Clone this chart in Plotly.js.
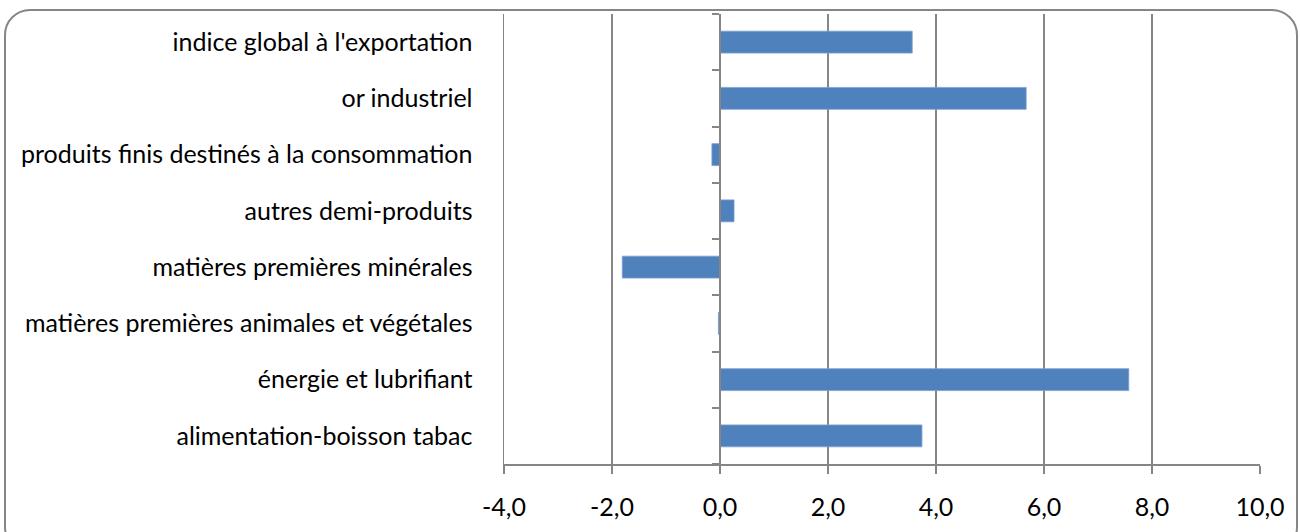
<!DOCTYPE html>
<html>
<head>
<meta charset="utf-8">
<script src="https://cdn.plot.ly/plotly-3.0.1.min.js"></script>
<style>
  html, body { margin: 0; padding: 0; background: #fff; }
  #wrap { position: relative; width: 1300px; height: 532px; overflow: hidden; }
  #chart { position: absolute; left: 0; top: 0; width: 1300px; height: 532px; }
  #frame { position: absolute; left: 4px; top: 9px; width: 1290px; height: 540px;
           border: 2.5px solid #868686; border-radius: 26px; pointer-events: none; }
</style>
</head>
<body>
<div id="wrap"><div id="chart"></div><div id="frame"></div></div>
<script>
// categories listed from bottom to top
const categories = [
  "alimentation-boisson tabac",
  "énergie et lubrifiant",
  "matières premières animales et végétales",
  "matières premières minérales",
  "autres demi-produits",
  "produits finis destinés à la consommation",
  "or industriel",
  "indice global à l'exportation"
];
const values = [3.74, 7.57, -0.03, -1.81, 0.26, -0.15, 5.67, 3.56];
const xTicks = [-4, -2, 0, 2, 4, 6, 8, 10];
const xTickText = xTicks.map(v => v.toFixed(1).replace(".", ","));

const grey = "#868686";
const font = { family: "Lato, 'Open Sans', sans-serif", size: 25, color: "#000" };

const traces = [
  {
    type: "bar", orientation: "h",
    y: categories, x: values,
    marker: { color: "#4F81BD", line: { color: "#7EA1CF", width: 0.8 } },
    hoverinfo: "x+y"
  },
  {
    type: "bar", orientation: "h",
    y: categories, x: values.map(() => 0),
    yaxis: "y2", marker: { opacity: 0 }, hoverinfo: "skip", showlegend: false
  }
];

const xmin = xTicks[0], xmax = xTicks[xTicks.length - 1];

const layout = {
  width: 1300, height: 532,
  margin: { l: 504, r: 40, t: 14, b: 68 },
  paper_bgcolor: "rgba(0,0,0,0)", plot_bgcolor: "rgba(0,0,0,0)",
  showlegend: false,
  bargap: 0.61,
  font: font,
  xaxis: {
    range: [xmin, xmax], tickvals: xTicks, ticktext: xTickText,
    showgrid: true, gridcolor: grey, gridwidth: 1.5,
    zeroline: false,
    showline: true, linecolor: grey, linewidth: 2,
    ticks: "outside", ticklen: 8, tickcolor: grey, tickwidth: 1.5,
    ticklabelstandoff: 12,
    tickfont: font, fixedrange: true
  },
  yaxis: {
    type: "category", categoryorder: "array", categoryarray: categories,
    showgrid: false, zeroline: false,
    showline: true, linecolor: grey, linewidth: 1.5,
    ticks: "",
    ticklabelstandoff: 25,
    tickfont: font, fixedrange: true
  },
  yaxis2: {
    type: "category", categoryorder: "array", categoryarray: categories,
    overlaying: "y", anchor: "free", side: "left",
    position: (0 - xmin) / (xmax - xmin),
    showgrid: false, zeroline: false,
    showline: true, linecolor: grey, linewidth: 2,
    ticks: "outside", tickson: "boundaries", ticklen: 7, tickcolor: grey, tickwidth: 2,
    showticklabels: false, fixedrange: true
  }
};

Plotly.newPlot("chart", traces, layout, { displayModeBar: false, staticPlot: true });
</script>
</body>
</html>
